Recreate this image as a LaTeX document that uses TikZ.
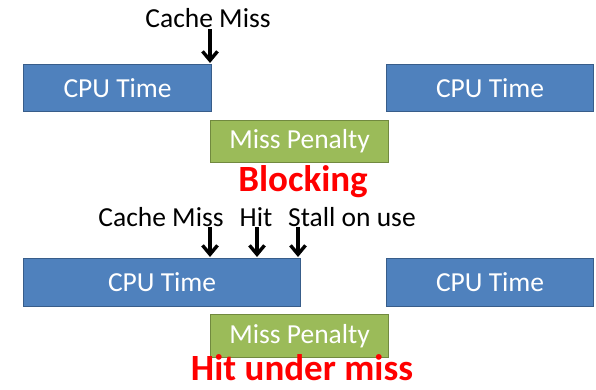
\documentclass[tikz,border=0pt]{standalone}
\usepackage{fontspec}
\setmainfont{Carlito}
\usetikzlibrary{arrows.meta}
\definecolor{cpublue}{HTML}{4F81BD}
\definecolor{cpuedge}{HTML}{385D8A}
\definecolor{pengreen}{HTML}{9BBB59}
\definecolor{penedge}{HTML}{71893F}
\definecolor{redtxt}{HTML}{FF0000}
\begin{document}
\begin{tikzpicture}[x=1pt,y=-1pt,
  cpubox/.style={draw=cpuedge,line width=1.2pt,fill=cpublue,text=white,font=\fontsize{27.5}{30}\selectfont},
  penbox/.style={draw=penedge,line width=1.2pt,fill=pengreen,text=white,font=\fontsize{27.5}{30}\selectfont},
  lbl/.style={font=\fontsize{27.5}{30}\selectfont,text=black,inner sep=0pt},
  title/.style={font=\fontsize{37}{40}\selectfont\bfseries,text=redtxt,inner sep=0pt},
  evarrow/.style={draw=black,line width=3.4pt,-{Straight Barb[length=9pt,width=15pt,line width=3.4pt]}}]
\useasboundingbox (0,0) rectangle (596,390);
% Blocking
\node[cpubox,minimum width=188pt,minimum height=47pt,anchor=north west] (cpuA) at (23,64) {CPU Time};
\node[penbox,minimum width=178pt,minimum height=42pt,anchor=north west] (penA) at (210,120) {Miss Penalty};
\node[cpubox,minimum width=207pt,minimum height=47pt,anchor=north west] (cpuB) at (386,64) {CPU Time};
\node[lbl] (missA) at (208,18) {Cache Miss};
\coordinate (missAtop) at (210,29);
\coordinate (missAbot) at (210,63);
\draw[evarrow] (missAtop) -- (missAbot);
\node[title] (blocking) at (303,182) {Blocking};
% Hit under miss
\node[cpubox,minimum width=277pt,minimum height=48pt,anchor=north west] (cpuC) at (23,258) {CPU Time};
\node[penbox,minimum width=178pt,minimum height=43pt,anchor=north west] (penC) at (210,314) {Miss Penalty};
\node[cpubox,minimum width=207pt,minimum height=48pt,anchor=north west] (cpuD) at (386,258) {CPU Time};
\node[lbl] (missC) at (161,217) {Cache Miss};
\node[lbl] (hitC) at (256,217) {Hit};
\node[lbl,anchor=west] (stallC) at (288,217) {Stall on use};
\coordinate (a1) at (210,227);
\coordinate (a2) at (257,227);
\coordinate (a3) at (298,227);
\coordinate (b1) at (210,257);
\coordinate (b2) at (257,257);
\coordinate (b3) at (298,257);
\draw[evarrow] (a1) -- (b1);
\draw[evarrow] (a2) -- (b2);
\draw[evarrow] (a3) -- (b3);
\node[title] (hum) at (302,368) {Hit under miss};
\end{tikzpicture}
\end{document}
